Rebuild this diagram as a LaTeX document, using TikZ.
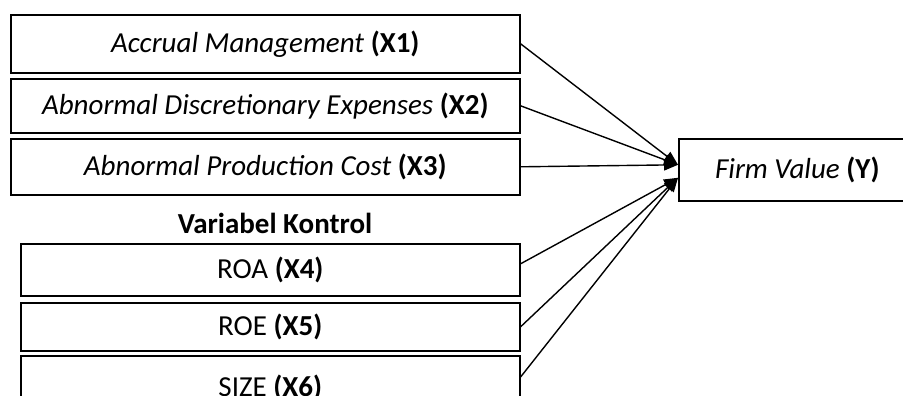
\documentclass[tikz,border=0pt]{standalone}
\usepackage{fontspec}
\setmainfont{Carlito}
\usetikzlibrary{arrows.meta,positioning}

\begin{document}
\begin{tikzpicture}[
    % Environment Config
    x=1pt, y=-1pt,
    font=\fontsize{29}{34}\selectfont,
    VarBox/.style={% Style for the variable boxes
      draw,
      line width=1.6pt,
      inner sep=0pt,
      anchor=north west
    },
    MyArrow/.style={% Style for the paths to Y
      -{Triangle[length=14pt,width=11pt]},
      line width=1.4pt
    }
  ]

  % Page size
  \useasboundingbox (0,0) rectangle (903,396);
  \clip (0,0) rectangle (903,396);

  % Independent variables
  \node[VarBox,minimum width=509pt,minimum height=58pt] (X1) at (10,14)
    {\textit{Accrual Management} \textbf{(X1)}};
  \node[VarBox,minimum width=509pt,minimum height=54pt] (X2) at (10,78)
    {\textit{Abnormal Discretionary Expenses} \textbf{(X2)}};
  \node[VarBox,minimum width=509pt,minimum height=56pt] (X3) at (10,138)
    {\textit{Abnormal Production Cost} \textbf{(X3)}};

  % Control variables
  \node[font=\fontsize{29}{34}\selectfont\bfseries] (VK) at (275,223) {Variabel Kontrol};
  \node[VarBox,minimum width=499pt,minimum height=52pt] (X4) at (20,243)
    {ROA \textbf{(X4)}};
  \node[VarBox,minimum width=499pt,minimum height=48pt] (X5) at (20,302)
    {ROE \textbf{(X5)}};
  \node[VarBox,minimum width=499pt,minimum height=64pt] (X6) at (20,355)
    {SIZE \textbf{(X6)}};

  % Dependent variable
  \node[VarBox,minimum width=237pt,minimum height=62pt] (Y) at (678,138)
    {\textit{Firm Value} \textbf{(Y)}};
  \coordinate (Yin) at ([yshift=5pt]Y.west);
  \coordinate (Yctl) at ([yshift=-8pt]Y.west);

  % Draw the paths
  \foreach \v in {X1,X2,X3}
    \draw[MyArrow] (\v.east) -- (Yin);
  \draw[MyArrow] ([yshift=6pt]X4.east) -- (Yctl);
  \draw[MyArrow] (X5.east) -- (Yctl);
  \draw[MyArrow] ([yshift=-22pt]X6.north east) -- (Yctl);

\end{tikzpicture}
\end{document}
